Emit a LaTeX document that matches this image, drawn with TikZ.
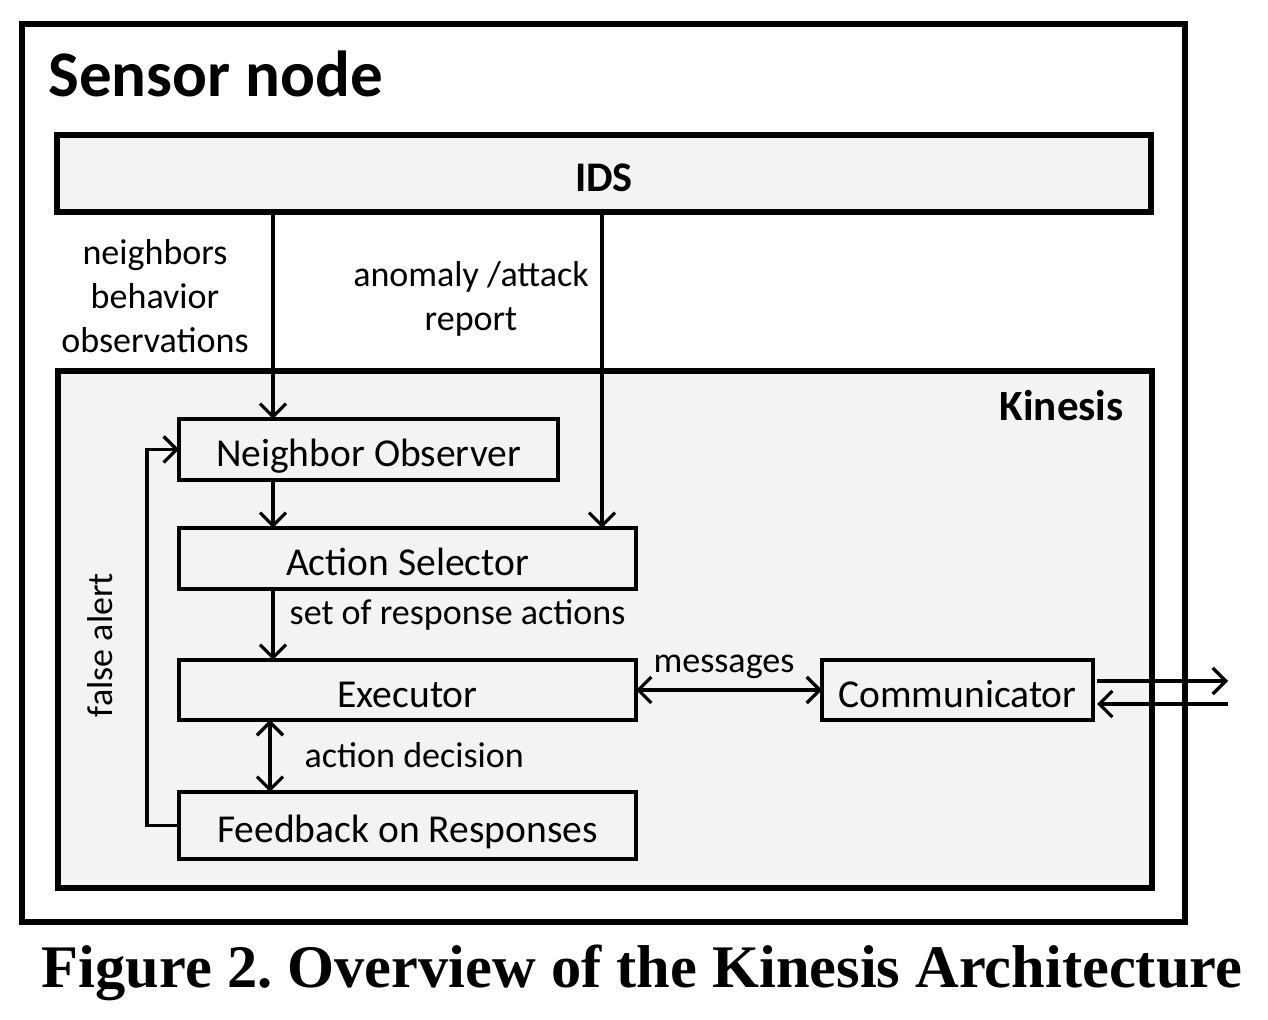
\documentclass[tikz,border=0pt]{standalone}
\usepackage{fontspec}
\setmainfont{Carlito}
\newfontfamily\capfont{Liberation Serif}
\usetikzlibrary{arrows.meta}
\definecolor{kgray}{RGB}{243,243,243}
\tikzstyle{bigS}=[line width=3pt,draw,fill=kgray,inner sep=0pt,outer sep=0pt]
\tikzstyle{bS}=[line width=1.9pt,draw,fill=kgray,inner sep=0pt,outer sep=0pt,text height=0.76cm,text depth=0.06cm,font=\fontsize{22.5}{27}\selectfont]
\tikzstyle{lS}=[inner sep=0pt,font=\fontsize{20.5}{25}\selectfont,align=center]
\tikzstyle{aS}=[line width=1.9pt,-{Straight Barb[length=2.6mm,width=5.2mm,line width=1.9pt]}]
\tikzstyle{aaS}=[line width=1.9pt,{Straight Barb[length=2.6mm,width=5.2mm,line width=1.9pt]}-{Straight Barb[length=2.6mm,width=5.2mm,line width=1.9pt]}]
\begin{document}
\begin{tikzpicture}[scale=1]%[x=1 cm, y=1 cm]
                \useasboundingbox (0,0) rectangle (25.36,20.4);
                \draw[line width=3pt] (0.44,1.96) rectangle (23.70,19.92);
                \draw (0.96,18.46) node[anchor=base west,inner sep=0pt,font=\bfseries\fontsize{37}{44}\selectfont] (sn) {Sensor node};
                \draw (12.08,16.93) node[bigS,minimum width=21.88cm,minimum height=1.54cm,text height=0.8cm,text depth=0.06cm,font=\bfseries\fontsize{24}{29}\selectfont] (ids) {IDS};
                \draw[bigS] (1.16,2.64) rectangle (23.04,12.98);
                \draw (22.48,11.98) node[anchor=base east,inner sep=0pt,font=\bfseries\fontsize{24.5}{29}\selectfont] (kin) {Kinesis};
                % modules
                \draw (7.37,11.41) node[bS,minimum width=7.58cm,minimum height=1.22cm] (no) {Neighbor Observer};
                \draw (8.15,9.23) node[bS,minimum width=9.14cm,minimum height=1.22cm] (as) {Action Selector};
                \draw (8.15,6.60) node[bS,minimum width=9.14cm,minimum height=1.2cm] (ex) {Executor};
                \draw (8.15,3.89) node[bS,minimum width=9.14cm,minimum height=1.34cm] (fb) {Feedback on Responses};
                \draw (19.15,6.60) node[bS,minimum width=5.42cm,minimum height=1.2cm] (comm) {Communicator};
                % columns and ends
                \coordinate (c1) at (5.46,0);
                \coordinate (c2) at (12.04,0);
                \coordinate (o1) at (24.56,6.78);
                \coordinate (o2) at (24.56,6.32);
                % labels
                \draw (3.10,14.48) node[lS] (l1) {neighbors\\behavior\\observations};
                \draw (9.42,14.43) node[lS] (l2) {anomaly /attack\\report};
                \draw (2.0,7.50) node[lS,rotate=90] (l3) {false alert};
                \path
                    (ids.south -| c1) edge[aS] (no.north -| c1)
                    (ids.south -| c2) edge[aS] (as.north -| c2)
                    (no.south -| c1) edge[aS] (as.north -| c1)
                    (as.south -| c1) edge[aS] node[lS,anchor=west,xshift=0.3cm,yshift=0.2cm]{set of response actions} (ex.north -| c1)
                    ([xshift=-0.06cm]ex.south -| c1) edge[aaS] node[lS,anchor=west,xshift=0.66cm,yshift=0.02cm]{action decision} ([xshift=-0.06cm]fb.north -| c1)
                    (ex.east) edge[aaS] node[lS,above,yshift=0.2cm,xshift=-0.1cm]{messages} (comm.west)
                    ([xshift=0.08cm]comm.east |- o1) edge[aS] (o1)
                    (o2) edge[aS] ([xshift=0.08cm]comm.east |- o2)
                ;
                \draw[aS] (fb.west) -- ++(-0.64,0) |- (no.west);
                % caption
                \draw (12.84,0.64) node[anchor=base,inner sep=0pt,font=\capfont\bfseries\fontsize{34.4}{40}\selectfont] (cap) {Figure 2.\ Overview of the Kinesis Architecture};
        \end{tikzpicture}
\end{document}
